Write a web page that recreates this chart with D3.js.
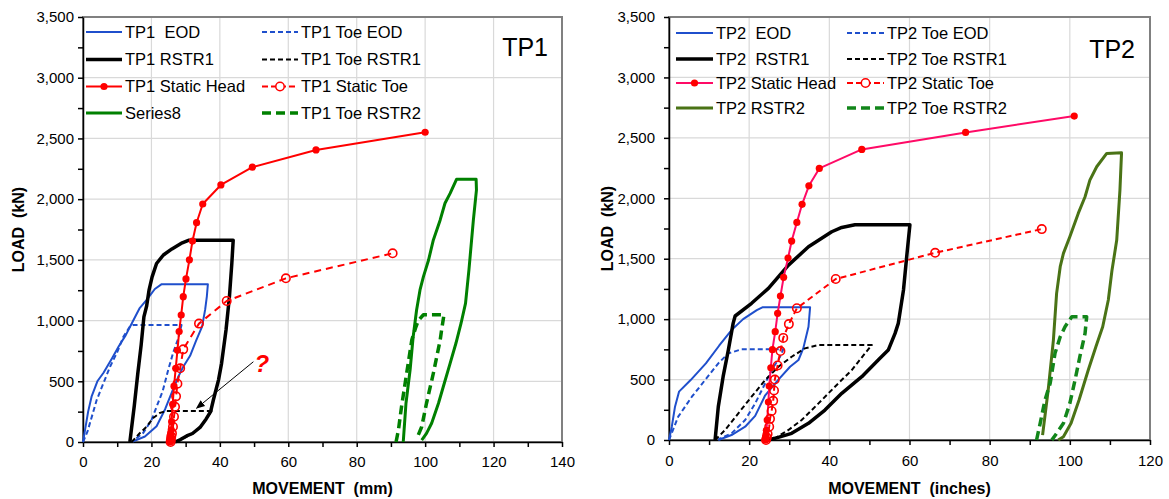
<!DOCTYPE html>
<html>
<meta charset="utf-8">
<style>
body { margin: 0; background: #fff; }
svg { font-family: "Liberation Sans", Arial, sans-serif; }
.grid line { stroke: #d9d9d9; stroke-width: 1.2; }
.axis path, .axis line { stroke: #000; stroke-width: 1.5; }
.axis text { font-size: 15px; fill: #000; font-family: "Liberation Sans", Arial, sans-serif; }
.label { font-weight: bold; font-size: 16px; white-space: pre; }
.legend text { font-size: 16.5px; white-space: pre; }
</style>
<body>
<script src="https://d3js.org/d3.v7.min.js"></script>
<script>
// ---- TP1 data (movement mm, load kN) ----
var tp1EOD = [[0,0],[0.6,100],[1.5,250],[2.5,373],[4.2,500],[6,570],[8.5,690],[10.5,790],[12.5,880],[14.5,990],[16.5,1100],[18.6,1170],[21,1260],[23,1300],[36.5,1300],[36.2,1200],[35.7,1090],[34.8,950],[33,830],[31.3,710],[29.3,620],[27.9,540],[26.4,440],[24,270],[21.5,130],[18.1,45],[14.5,3]];
var tp1ToeEOD = [[0,0],[1.3,85],[4,346],[7.9,620],[10,740],[11.8,867],[13.7,950],[14.7,964],[28.8,964],[27.8,850],[26.4,740],[24.9,593],[23.3,420],[21.5,290],[20,180],[17.6,75],[14.7,10]];
var tp1RSTR1 = [[13.7,0],[15,300],[16,560],[17,800],[17.8,1030],[18.6,1120],[19.3,1250],[20.2,1360],[21.5,1470],[23.5,1540],[26,1590],[29,1640],[31,1662],[43.9,1662],[43.5,1472],[42.8,1197],[41.8,922],[40.5,648],[39.6,510],[39.1,455],[38.1,346],[37.3,250],[36,190],[34.2,120],[32,70],[30.3,50],[28.5,20],[26.9,0]];
var tp1ToeRSTR1 = [[14.2,0],[16.5,70],[18.6,126],[20.6,200],[22.5,240],[24.5,255],[37.6,255],[36,190],[34.2,120],[32,70],[30.3,45],[28.5,20],[26.9,0]];
var tp1Head = [[25.5,0],[25.5,15],[25.6,35],[25.7,60],[25.8,100],[25.9,167],[26.2,310],[26.6,460],[27.1,607],[27.6,755],[28.1,909],[28.7,1046],[29.3,1197],[30.1,1343],[31.1,1500],[32,1655],[33.2,1806],[35,1960],[40.3,2117],[49.5,2263],[68.1,2405],[100,2551]];
var tp1Toe = [[25.6,0],[25.7,20],[25.8,45],[26,71],[26.3,126],[26.6,208],[26.9,290],[27.2,376],[27.6,480],[28.4,607],[29.3,763],[33.9,975],[42,1161],[59.3,1348],[90.5,1554]];
var tp1RSTR2 = [[93.6,0],[94.4,319],[95.6,593],[96.5,867],[97.5,1087],[98.5,1252],[99.5,1362],[101,1499],[102.4,1664],[104.4,1829],[105.8,1966],[107.3,2048],[109.2,2164],[114.9,2164],[115,2076],[114.1,1829],[112.8,1417],[111.8,1142],[110.5,978],[109,813],[107.3,648],[105.3,455],[103.9,319],[101.9,154],[100.4,71],[99,16]];
var tp1ToeRSTR2 = [[91.5,0],[92.2,100],[93.1,291],[94.6,566],[96.1,840],[97.2,940],[98,1000],[99.5,1048],[105.5,1048],[104.8,920],[104.4,840],[102.4,566],[100.4,319],[99,126],[97.5,25]];

// ---- TP2 data (movement, load kN) ----
var tp2EOD = [[0,0],[0.7,110],[1.5,276],[2.5,400],[5.4,496],[9.2,634],[12.5,780],[15.6,910],[18.5,1000],[21.9,1075],[23.3,1098],[35.2,1098],[34.8,937],[33.5,758],[32.3,662],[30.2,606],[27.3,500],[24,370],[21.5,200],[19,110],[15.6,41],[12.3,0]];
var tp2ToeEOD = [[0,0],[2.3,193],[5.7,358],[9,496],[12.3,634],[14.8,717],[18.1,750],[28.5,750],[27.7,689],[25.6,579],[24,469],[21.5,303],[19,165],[15.6,55],[12.3,5]];
var tp2RSTR1 = [[11.5,0],[12.3,276],[13.5,524],[14.8,744],[16,965],[16.5,1026],[20.6,1131],[24.8,1255],[29.8,1447],[34.8,1599],[40.6,1723],[43.1,1759],[46.4,1781],[60.1,1781],[59.3,1516],[58.5,1241],[57.2,965],[56.4,882],[54.7,744],[52.2,662],[48.1,524],[43.1,386],[38.9,248],[34.8,138],[30.6,55],[26.4,14],[24.8,0]];
var tp2ToeRSTR1 = [[11.5,0],[14,83],[17.3,221],[20.6,358],[24,496],[27.3,606],[30.6,689],[33.9,758],[37.3,786],[50.6,786],[48.9,717],[45.6,579],[41.4,441],[37.3,303],[33.1,165],[29.8,83],[26.4,14]];
var tp2Head = [[24.1,0],[24.1,14],[24.2,40],[24.3,80],[24.5,165],[24.8,314],[25,447],[25.4,598],[25.8,747],[26.5,896],[27.1,1048],[27.8,1191],[28.6,1346],[29.7,1505],[30.6,1646],[31.9,1800],[33.2,1950],[34.9,2103],[37.5,2247],[48.1,2404],[74,2545],[101.1,2680]];
var tp2Toe = [[24.2,0],[24.4,20],[24.6,50],[25,110],[25.2,175],[25.6,240],[26,324],[26.2,410],[26.4,500],[27.1,617],[27.8,736],[28.5,845],[29.9,959],[31.9,1090],[41.6,1332],[66.4,1549],[93,1745]];
var tp2RSTR2 = [[93.2,40],[94.6,414],[95.9,827],[96.7,1213],[97.6,1434],[98.4,1544],[100,1682],[102.1,1875],[103.8,2013],[105,2150],[106.7,2261],[109.2,2371],[112.9,2376],[112.5,2068],[111.7,1654],[110.5,1400],[109.6,1158],[108.2,937],[106.5,772],[104.6,579],[102.3,331],[100.3,138],[98.4,27],[97.1,0]];
var tp2ToeRSTR2 = [[91.7,0],[92.6,138],[93.8,331],[95.1,469],[96.3,717],[97.6,854],[98.8,937],[100.5,1020],[104.2,1020],[103.8,882],[102.5,689],[101.3,496],[100,303],[98.4,138],[96.7,55],[95.5,0]];

var yTicks = d3.range(0, 3501, 250);
var fmt = d3.format(",");

var svg = d3.select("body").append("svg")
    .attr("width", 1169)
    .attr("height", 499);

var defs = svg.append("defs");
defs.append("marker")
    .attr("id", "arrow")
    .attr("viewBox", "0 0 10 10")
    .attr("refX", 9).attr("refY", 5)
    .attr("markerWidth", 9).attr("markerHeight", 9)
    .attr("markerUnits", "userSpaceOnUse")
    .attr("orient", "auto")
  .append("path")
    .attr("d", "M0,1 L10,5 L0,9 z")
    .attr("fill", "#000");

var charts = [
  {
    left: 83, right: 562, top: 17, bottom: 442, xMax: 140,
    yPad: 4, xPad: 9.3, yLabelX: 24,
    xLabel: "MOVEMENT  (mm)", title: "TP1", titleX: 548, titleY: 56,
    legRows: [32, 59.5, 86.5, 113], legCols: [86, 262], legLen: 36,
    series: [
      {data: tp1EOD, name: "TP1  EOD", color: "#1f4fcc", w: 2, leg: [0, 0]},
      {data: tp1ToeEOD, name: "TP1 Toe EOD", color: "#1f4fcc", w: 2, dash: "5,3", leg: [1, 0]},
      {data: tp1RSTR1, name: "TP1 RSTR1", color: "#000", w: 3.5, leg: [0, 1]},
      {data: tp1ToeRSTR1, name: "TP1 Toe RSTR1", color: "#000", w: 2, dash: "5,3", leg: [1, 1]},
      {data: tp1Head, name: "TP1 Static Head", color: "#ff0000", w: 2, mark: "dot", leg: [0, 2]},
      {data: tp1Toe, name: "TP1 Static Toe", color: "#ff0000", w: 2, dash: "7,5", mark: "open", leg: [1, 2]},
      {data: tp1RSTR2, name: "Series8", color: "#008000", w: 3, leg: [0, 3]},
      {data: tp1ToeRSTR2, name: "TP1 Toe RSTR2", color: "#008000", w: 3.5, dash: "9,5", leg: [1, 3]}
    ],
    note: {text: "?", x: 52.3, y: 577, tail: [49.8, 661], tip: [33.2, 278]}
  },
  {
    left: 669, right: 1150, top: 17, bottom: 440, xMax: 120,
    yPad: 9, xPad: 10.3, yLabelX: 613,
    xLabel: "MOVEMENT  (inches)", title: "TP2", titleX: 1135, titleY: 58,
    legRows: [33, 59, 83, 108], legCols: [676, 847], legLen: 37,
    series: [
      {data: tp2EOD, name: "TP2  EOD", color: "#1f4fcc", w: 2, leg: [0, 0]},
      {data: tp2ToeEOD, name: "TP2 Toe EOD", color: "#1f4fcc", w: 2, dash: "5,3", leg: [1, 0]},
      {data: tp2RSTR1, name: "TP2  RSTR1", color: "#000", w: 3.5, leg: [0, 1]},
      {data: tp2ToeRSTR1, name: "TP2 Toe RSTR1", color: "#000", w: 2, dash: "5,3", leg: [1, 1]},
      {data: tp2Head, name: "TP2 Static Head", color: "#ff0a66", w: 2, mark: "dot", leg: [0, 2]},
      {data: tp2Toe, name: "TP2 Static Toe", color: "#ff0000", w: 2, dash: "6,4", mark: "open", leg: [1, 2]},
      {data: tp2RSTR2, name: "TP2 RSTR2", color: "#4a7316", w: 3, leg: [0, 3]},
      {data: tp2ToeRSTR2, name: "TP2 Toe RSTR2", color: "#12861a", w: 3.5, dash: "9,5", leg: [1, 3]}
    ]
  }
];

charts.forEach(function(c) {
  var x = d3.scaleLinear().domain([0, c.xMax]).range([c.left, c.right]);
  var y = d3.scaleLinear().domain([0, 3500]).range([c.bottom, c.top]);
  var g = svg.append("g");

  // gridlines
  var grid = g.append("g").attr("class", "grid");
  grid.selectAll(".gx").data(d3.range(20, c.xMax + 1, 20)).enter().append("line")
      .attr("x1", x).attr("x2", x).attr("y1", c.top).attr("y2", c.bottom);
  grid.selectAll(".gy").data(d3.range(500, 3501, 500)).enter().append("line")
      .attr("y1", y).attr("y2", y).attr("x1", c.left).attr("x2", c.right);

  // plot frame
  g.append("rect")
      .attr("x", c.left).attr("y", c.top)
      .attr("width", c.right - c.left).attr("height", c.bottom - c.top)
      .attr("fill", "none").attr("stroke", "#808080").attr("stroke-width", 2);

  // axes
  g.append("g").attr("class", "axis")
      .attr("transform", "translate(" + c.left + ",0)")
      .call(d3.axisLeft(y).tickValues(yTicks).tickSize(5).tickSizeOuter(0).tickPadding(c.yPad)
        .tickFormat(function(d) { return d % 500 === 0 ? fmt(d) : ""; }));
  g.append("g").attr("class", "axis")
      .attr("transform", "translate(0," + c.bottom + ")")
      .call(d3.axisBottom(x).tickValues(d3.range(0, c.xMax + 1, 10)).tickSize(5).tickSizeOuter(0).tickPadding(c.xPad)
        .tickFormat(function(d) { return d % 20 === 0 ? d : ""; }));

  // axis titles
  g.append("text").attr("class", "label")
      .attr("x", (c.left + c.right) / 2).attr("y", 494)
      .attr("text-anchor", "middle")
      .text(c.xLabel);
  g.append("text").attr("class", "label")
      .attr("transform", "translate(" + c.yLabelX + "," + (c.top + c.bottom) / 2 + ") rotate(-90)")
      .attr("text-anchor", "middle")
      .text("LOAD  (kN)");

  var line = d3.line().x(function(d) { return x(d[0]); }).y(function(d) { return y(d[1]); });

  c.series.forEach(function(s) {
    g.append("path")
        .datum(s.data)
        .attr("d", line)
        .attr("fill", "none")
        .attr("stroke", s.color)
        .attr("stroke-width", s.w)
        .attr("stroke-linejoin", "round")
        .attr("stroke-dasharray", s.dash || null);
    if (s.mark == "dot") {
      g.selectAll(null).data(s.data).enter().append("circle")
          .attr("cx", function(d) { return x(d[0]); })
          .attr("cy", function(d) { return y(d[1]); })
          .attr("r", 3.6).attr("fill", "#ff0000");
    } else if (s.mark == "open") {
      g.selectAll(null).data(s.data).enter().append("circle")
          .attr("cx", function(d) { return x(d[0]); })
          .attr("cy", function(d) { return y(d[1]); })
          .attr("r", 4.2).attr("fill", "none")
          .attr("stroke", "#ff0000").attr("stroke-width", 1.6);
    }
  });

  // legend
  var leg = g.append("g").attr("class", "legend");
  c.series.forEach(function(s) {
    var lx = c.legCols[s.leg[0]], ly = c.legRows[s.leg[1]];
    leg.append("line")
        .attr("x1", lx).attr("x2", lx + c.legLen).attr("y1", ly).attr("y2", ly)
        .attr("stroke", s.color).attr("stroke-width", s.w)
        .attr("stroke-dasharray", s.dash ? (s.mark ? "6,3" : s.dash) : null);
    if (s.mark == "dot") {
      leg.append("circle").attr("cx", lx + c.legLen / 2).attr("cy", ly).attr("r", 3.6).attr("fill", "#ff0000");
    } else if (s.mark == "open") {
      leg.append("circle").attr("cx", lx + c.legLen / 2).attr("cy", ly).attr("r", 4.2)
          .attr("fill", "#fff").attr("stroke", "#ff0000").attr("stroke-width", 1.5);
    }
    leg.append("text")
        .attr("x", lx + c.legLen + 3).attr("y", ly).attr("dy", "0.36em")
        .text(s.name);
  });

  g.append("text")
      .attr("x", c.titleX).attr("y", c.titleY)
      .attr("text-anchor", "end")
      .style("font-size", "25px")
      .text(c.title);

  if (c.note) {
    g.append("line")
        .attr("x1", x(c.note.tail[0])).attr("y1", y(c.note.tail[1]))
        .attr("x2", x(c.note.tip[0])).attr("y2", y(c.note.tip[1]))
        .attr("stroke", "#000").attr("stroke-width", 1)
        .attr("marker-end", "url(#arrow)");
    g.append("text")
        .attr("x", x(c.note.x)).attr("y", y(c.note.y))
        .attr("text-anchor", "middle")
        .style("font-size", "24px").style("font-weight", "bold").style("font-style", "italic")
        .attr("fill", "#ff0000")
        .text(c.note.text);
  }
});
</script>
</body>
</html>
